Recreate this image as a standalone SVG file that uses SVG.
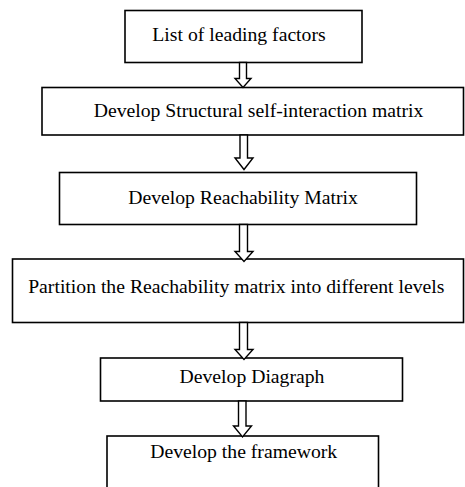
<svg xmlns="http://www.w3.org/2000/svg" width="465" height="487" viewBox="0 0 465 487">
<style>
.box{fill:#fff;stroke:#000;stroke-width:1.6}
.lbl{font-family:"Liberation Serif","Times New Roman",serif;font-size:19.7px;fill:#000;text-anchor:middle}
.arr{fill:#fff;stroke:#000;stroke-width:1.4;stroke-linejoin:miter}
</style>
<rect width="465" height="487" fill="#fff"/>
<g id="n1"><rect class="box" x="125" y="10.5" width="237" height="52"/><text class="lbl" x="239" y="41">List of leading factors</text></g>
<g id="n2"><rect class="box" x="42" y="87.5" width="421.5" height="47.5"/><text class="lbl" x="258.5" y="116.5">Develop Structural self-interaction matrix</text></g>
<g id="n3"><rect class="box" x="59.5" y="172.5" width="357" height="52"/><text class="lbl" x="243" y="204">Develop Reachability Matrix</text></g>
<g id="n4"><rect class="box" x="12.5" y="259" width="451" height="63.5"/><text class="lbl" x="236.3" y="293.3">Partition the Reachability matrix into different levels</text></g>
<g id="n5"><rect class="box" x="100.5" y="358" width="302" height="43"/><text class="lbl" x="252" y="383.3">Develop Diagraph</text></g>
<g id="n6"><rect class="box" x="107" y="436" width="271.5" height="60"/><text class="lbl" x="243.7" y="458.3">Develop the framework</text></g>
<g id="connectors">
<path class="arr" d="M239.5 62.5 V78.5 H235 L243 87.5 L251 78.5 H246.5 V62.5 Z"/>
<path class="arr" d="M240 135 V158 H235 L244 169.5 L253 158 H247.5 V135 Z"/>
<path class="arr" d="M239.5 224.5 V251.5 H235 L244 261.5 L253 251.5 H247.5 V224.5 Z"/>
<path class="arr" d="M239.5 322.5 V349.5 H235 L244 359.5 L253 349.5 H247.5 V322.5 Z"/>
<path class="arr" d="M238.5 401 V426 H233.5 L242.5 437 L251.5 426 H246 V401 Z"/>
</g>
</svg>
